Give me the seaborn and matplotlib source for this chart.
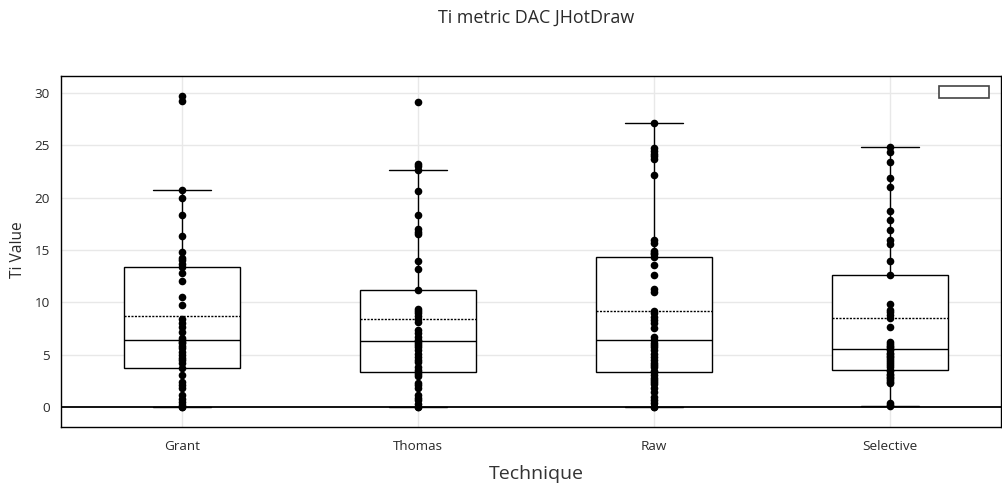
import numpy as np
import pandas as pd
import seaborn as sns
import matplotlib
matplotlib.use("Agg")
import matplotlib.pyplot as plt
from matplotlib.patches import Rectangle

categories = ["Grant", "Thomas", "Raw", "Selective"]

grant = [0.0, 0.0, 0.2, 0.5, 0.8, 1.15, 1.8, 2.1, 2.4, 3.05,
         3.75,
         4.2, 4.45, 4.65, 5.0, 5.3, 5.6, 5.8, 6.1, 6.25,
         6.4,
         6.6, 7.2, 7.6, 8.0, 8.4, 9.75, 10.5, 12.0, 12.8,
         13.35,
         13.7, 14.0, 14.2, 14.8, 16.3, 18.3, 20.0, 20.7, 29.2, 29.7]

thomas = [0.0, 0.0, 0.3, 0.65, 0.9, 1.15, 1.8, 2.1, 2.3, 2.95, 3.2,
          3.35,
          3.55, 3.8, 4.3, 4.5, 4.75, 5.05, 5.4, 5.75, 5.95, 6.1,
          6.3,
          6.4, 6.7, 7.05, 7.4, 8.15, 8.45, 8.7, 8.95, 9.2, 9.4,
          11.15,
          13.15, 13.9, 16.5, 16.75, 17.0, 18.3, 20.6, 22.6, 23.0, 23.2, 29.1]

raw = [0.0, 0.0, 0.35, 0.65, 1.0, 1.45, 1.8, 2.2, 2.4, 2.6, 2.75, 3.05,
       3.3,
       3.4, 3.85, 4.0, 4.2, 4.5, 4.8, 5.1, 5.45, 5.75, 5.9, 6.1,
       6.4,
       6.7, 7.5, 8.0, 8.3, 8.6, 8.95, 9.2, 11.0, 11.3, 12.6, 13.55,
       14.35,
       14.6, 14.75, 14.9, 15.7, 15.95, 22.2, 23.7, 24.0, 24.2, 24.5, 24.7, 27.1]

selective = [0.05, 0.2, 0.35, 2.25, 2.4, 2.6, 2.75, 2.9, 3.05, 3.2, 3.4,
             3.55,
             3.85, 4.0, 4.25, 4.4, 4.6, 4.75, 4.9, 5.05, 5.2, 5.4,
             5.55,
             5.7, 5.85, 6.0, 6.2, 7.6, 8.55, 8.8, 9.1, 9.3, 9.85,
             12.65,
             13.9, 15.6, 16.0, 16.9, 17.85, 18.75, 21.0, 21.85, 23.4, 24.4, 24.8]

y_ticks = [0, 5, 10, 15, 20, 25, 30]

series = {"Grant": grant, "Thomas": thomas, "Raw": raw, "Selective": selective}
df = pd.DataFrame([(k, v) for k, vals in series.items() for v in vals],
                  columns=["Technique", "Ti Value"])

sns.set_style("white")
plt.rcParams["font.family"] = ["Open Sans", "DejaVu Sans"]
TXT = "#2a2a2a"

fig = plt.figure(figsize=(10.02, 4.88), dpi=100)
ax = fig.add_axes([61 / 1002, 61 / 488, 940 / 1002, 351 / 488])

# grid
for t in y_ticks:
    if t != 0:
        ax.axhline(t, color="#e8e8e8", lw=1, zorder=0)
for i in range(len(categories)):
    ax.axvline(i, color="#e8e8e8", lw=1, zorder=0)

line = dict(color="black", linewidth=1)
sns.boxplot(data=df, x="Technique", y="Ti Value", order=categories, ax=ax,
            width=0.49, whis=1.5, showfliers=False, showmeans=True, meanline=True,
            boxprops=dict(facecolor="white", edgecolor="black", linewidth=1),
            whiskerprops=line, capprops=line, medianprops=line,
            meanprops=dict(color="black", linestyle=(0, (1.5, 1)), linewidth=1),
            zorder=2)
sns.stripplot(data=df, x="Technique", y="Ti Value", order=categories, ax=ax,
              jitter=0, color="black", size=5.5, linewidth=0, zorder=3)

ax.axhline(0, color="black", lw=1.3, zorder=2.5)

ax.set_xlim(-0.513, 3.47)
ax.set_ylim(-1.91, 31.62)
ax.set_yticks(y_ticks)
ax.set_yticklabels([str(t) for t in y_ticks])
ax.set_xlabel("")
ax.set_ylabel("")
ax.tick_params(axis="both", direction="out", length=5, width=1, color="black",
               labelcolor=TXT, labelsize=9.7, pad=3)
ax.tick_params(axis="x", pad=4)
for s in ax.spines.values():
    s.set_visible(True)
    s.set_color("black")
    s.set_linewidth(1)

# legend key
ax.add_patch(Rectangle((0.934, 0.937), 0.053, 0.0345, transform=ax.transAxes,
                       facecolor="white", edgecolor="#444444", lw=1.2, zorder=5,
                       clip_on=False))

fig.text(536 / 1002, 1 - 18 / 488, "Ti metric DAC JHotDraw", ha="center", va="center",
         fontsize=12.9, color=TXT)
fig.text(536 / 1002, 1 - 474 / 488, "Technique", ha="center", va="center",
         fontsize=14, color="#333333")
fig.text(18 / 1002, 1 - 250 / 488, "Ti Value", ha="center", va="center",
         rotation=90, fontsize=11.2, color=TXT)

fig.savefig("out.png", dpi=100)
